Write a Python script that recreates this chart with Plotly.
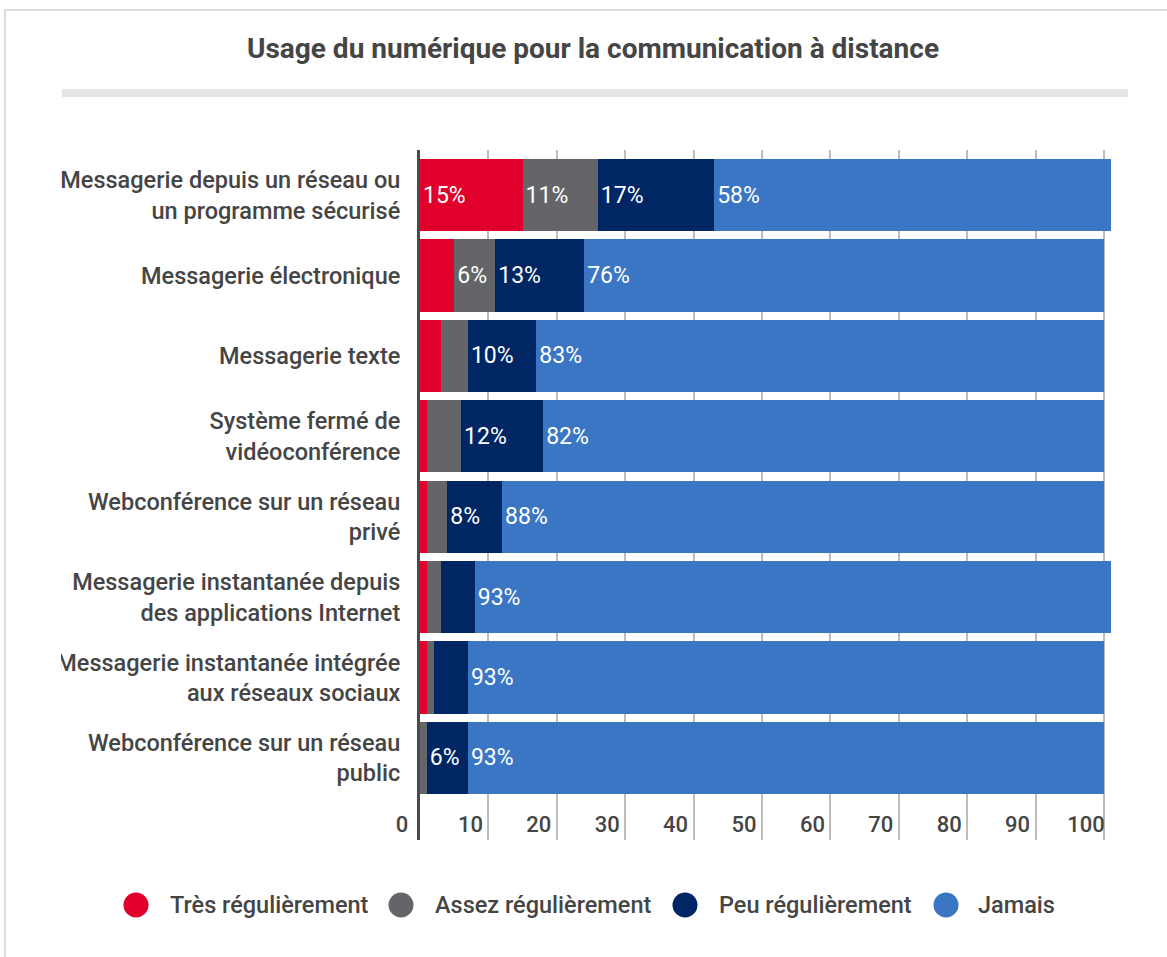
import plotly.graph_objects as go

# ---------------- data ----------------
CATEGORIES = [
    "Messagerie depuis un réseau ou<br>un programme sécurisé",
    "Messagerie électronique",
    "Messagerie texte",
    "Système fermé de<br>vidéoconférence",
    "Webconférence sur un réseau<br>privé",
    "Messagerie instantanée depuis<br>des applications Internet",
    "Messagerie instantanée intégrée<br>aux réseaux sociaux",
    "Webconférence sur un réseau<br>public",
]
SERIES = ["Très régulièrement", "Assez régulièrement", "Peu régulièrement", "Jamais"]
TRES = [15, 5, 3, 1, 1, 1, 1, 0]
ASSEZ = [11, 6, 4, 5, 3, 2, 1, 1]
PEU = [17, 13, 10, 12, 8, 5, 5, 6]
JAMAIS = [58, 76, 83, 82, 88, 93, 93, 93]
XTICKS = [0, 10, 20, 30, 40, 50, 60, 70, 80, 90, 100]

COLORS = ["#e0002b", "#636569", "#002664", "#3a76c4"]
VALUES = [TRES, ASSEZ, PEU, JAMAIS]

# ---------------- layout geometry (pixels) ----------------
W, H = 1167, 957
ML, MR, MT, MB = 420, 49, 150, 117
PW, PH = W - ML - MR, H - MT - MB


def px_x(p):
    return (p - ML) / PW


def px_y(p):
    return (H - MB - p) / PH


FONT = "Roboto"
TXT = "#454545"

fig = go.Figure()
for name, vals, col in zip(SERIES, VALUES, COLORS):
    fig.add_trace(go.Bar(
        y=CATEGORIES, x=vals, name=name, orientation="h",
        marker=dict(color=col, line=dict(width=0)),
        text=[f"{v}%" if v >= 6 else "" for v in vals],
        textposition="inside", insidetextanchor="start",
        textfont=dict(color="white", size=23, family=FONT),
        constraintext="none", showlegend=False, hoverinfo="x+y+name",
    ))

shapes = [
    # card border
    dict(type="rect", xref="paper", yref="paper",
         x0=px_x(5), x1=px_x(1200), y0=px_y(1000), y1=px_y(10),
         line=dict(color="#dcdcdc", width=2), fillcolor="rgba(0,0,0,0)", layer="below"),
    # grey band under the title
    dict(type="rect", xref="paper", yref="paper",
         x0=px_x(62), x1=px_x(1128), y0=px_y(97), y1=px_y(89),
         line=dict(width=0), fillcolor="#e6e6e6", layer="below"),
    # clipping of container on the left
    dict(type="rect", xref="paper", yref="paper",
         x0=px_x(8), x1=px_x(61), y0=px_y(700), y1=px_y(640),
         line=dict(width=0), fillcolor="white", layer="above"),
]

annotations = []
LEG_CIRCLE_X = [136, 401, 685, 946]
LEG_TEXT_X = [168, 433, 717, 976]
LEG_Y = 905
R = 12.5
for name, col, cx, tx in zip(SERIES, COLORS, LEG_CIRCLE_X, LEG_TEXT_X):
    shapes.append(dict(type="circle", xref="paper", yref="paper",
                       x0=px_x(cx - R), x1=px_x(cx + R),
                       y0=px_y(LEG_Y + R), y1=px_y(LEG_Y - R),
                       fillcolor=col, line=dict(width=0), layer="above"))
    annotations.append(dict(text=name, xref="paper", yref="paper",
                            x=px_x(tx), y=px_y(LEG_Y), xanchor="left", yanchor="middle",
                            showarrow=False,
                            font=dict(size=23.5, color=TXT, family=FONT, weight=500)))

fig.update_layout(
    width=W, height=H,
    margin=dict(l=ML, r=MR, t=MT, b=MB),
    barmode="stack", bargap=0.1,
    paper_bgcolor="white", plot_bgcolor="white",
    font=dict(family=FONT, color=TXT),
    title=dict(text="<b>Usage du numérique pour la communication à distance</b>",
               x=593 / W, xanchor="center", y=1 - 48 / H, yanchor="middle",
               yref="container", xref="container",
               font=dict(size=28, color=TXT, family=FONT)),
    xaxis=dict(range=[0, PW / 6.84], tickvals=XTICKS, ticktext=[str(t) for t in XTICKS],
               showgrid=True, gridcolor="#bdbdbd", gridwidth=1.5, zeroline=False,
               showline=False, ticks="", ticklabelshift=-18, ticklabelstandoff=-31,
               tickfont=dict(size=22, color=TXT, family=FONT, weight=500), fixedrange=True),
    yaxis=dict(categoryorder="array", categoryarray=CATEGORIES,
               range=[8.02, -0.56], showgrid=False, zeroline=False,
               showline=True, linecolor="#4a4a4a", linewidth=3,
               ticks="", ticklabelstandoff=12,
               tickfont=dict(size=23.5, color=TXT, family=FONT, weight=500), fixedrange=True),
    shapes=shapes, annotations=annotations,
    showlegend=False,
)

fig.write_html("out.html", config={"displayModeBar": False},
               post_script="document.body.style.margin='0';")
